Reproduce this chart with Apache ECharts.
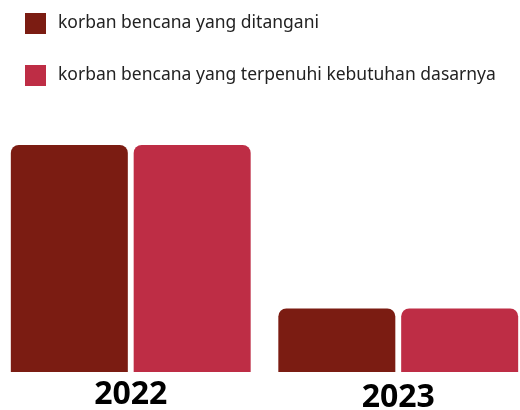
<!DOCTYPE html>
<html><head><meta charset="utf-8">
<script src="https://cdn.jsdelivr.net/npm/echarts@6/dist/echarts.min.js"></script>
<style>html,body{margin:0;padding:0;background:#fff;overflow:hidden}#c{width:535px;height:410px;position:absolute;left:-3px;top:0}</style>
</head><body><div id="c"></div>
<script>
const categories = ['2022', '2023'];
const seriesNames = ['korban bencana yang ditangani', 'korban bencana yang terpenuhi kebutuhan dasarnya'];
const ditangani = [100, 28];
const terpenuhi = [100, 28];
const colors = ['#7B1C12', '#BE2D45'];

const chart = echarts.init(document.getElementById('c'));
chart.setOption({
  animation: false,
  legend: {
    orient: 'vertical', left: 28, top: 13, padding: 0, itemWidth: 21, itemHeight: 21, itemGap: 31,
    icon: 'rect',
    textStyle: { fontFamily: 'Noto Sans', fontSize: 17.5, color: '#222', padding: [0, 0, 0, 7] },
    data: seriesNames
  },
  grid: { left: 0, right: 0, top: 145, bottom: 38, containLabel: false, outerBoundsMode: 'none' },
  xAxis: {
    type: 'category',
    data: categories.map((c, i) => i === 1 ? { value: c, textStyle: { padding: [3, 0, 0, 0] } } : c),
    axisLine: { show: false }, axisTick: { show: false },
    axisLabel: { fontFamily: 'Noto Sans', fontWeight: 'bold', fontSize: 32, color: '#000', margin: 7 }
  },
  yAxis: { type: 'value', min: 0, max: 100, show: false, splitLine: { show: false } },
  series: [
    { name: seriesNames[0], type: 'bar', data: ditangani, barWidth: 117, barGap: '5%',
      itemStyle: { color: colors[0], borderRadius: [8, 8, 0, 0] } },
    { name: seriesNames[1], type: 'bar', data: terpenuhi, barWidth: 117,
      itemStyle: { color: colors[1], borderRadius: [8, 8, 0, 0] } }
  ]
});
</script></body></html>
